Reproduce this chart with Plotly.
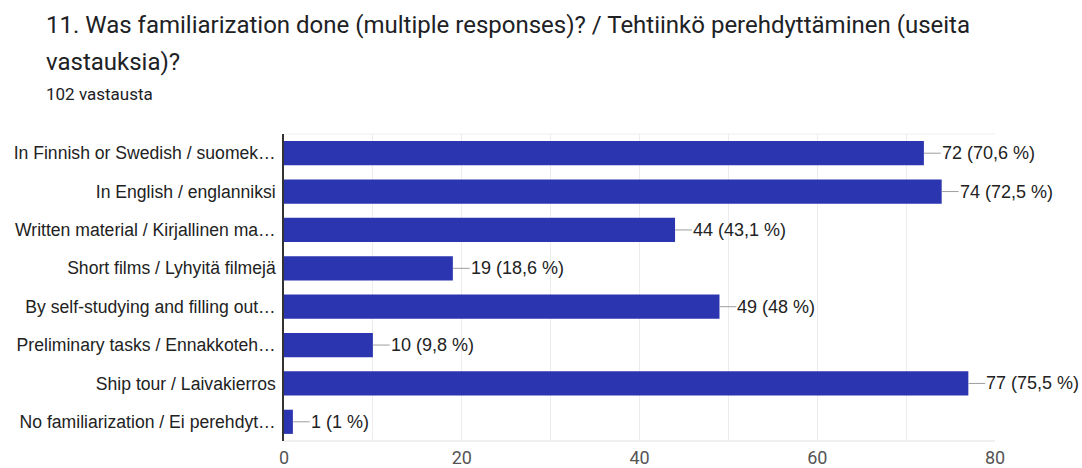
import plotly.graph_objects as go

categories = [
    "In Finnish or Swedish / suomek…",
    "In English / englanniksi",
    "Written material / Kirjallinen ma…",
    "Short films / Lyhyitä filmejä",
    "By self-studying and filling out…",
    "Preliminary tasks / Ennakkoteh…",
    "Ship tour / Laivakierros",
    "No familiarization / Ei perehdyt…",
]
counts = [72, 74, 44, 19, 49, 10, 77, 1]
percents = ["70,6", "72,5", "43,1", "18,6", "48", "9,8", "75,5", "1"]
x_ticks = [0, 20, 40, 60, 80]

title_line1 = "11. Was familiarization done (multiple responses)? / Tehtiinkö perehdyttäminen (useita"
title_line2 = "vastauksia)?"
subtitle = "102 vastausta"

BAR = "#2c35b0"
W, H = 1082, 468
L, R, T, B = 284, 87, 134, 27
PH = H - T - B
PW = W - L - R

fig = go.Figure()
fig.add_trace(go.Bar(
    y=categories, x=counts, orientation="h",
    marker=dict(color=BAR, line=dict(width=0)),
    width=0.63, hoverinfo="skip",
))

# leader lines
lx, ly = [], []
for c, v in zip(categories, counts):
    lx += [v, v + 1.9, None]
    ly += [c, c, None]
fig.add_trace(go.Scatter(x=lx, y=ly, mode="lines",
                         line=dict(color="#9e9e9e", width=1),
                         hoverinfo="skip", cliponaxis=False))

annotations = []
for c, v, p in zip(categories, counts, percents):
    annotations.append(dict(
        x=v, y=c, xref="x", yref="y", text=f"{v} ({p} %)",
        showarrow=False, xanchor="left", xshift=16,
        font=dict(family="Liberation Sans, Arial", size=18, color="#222222"),
    ))

def py(pix):
    return (H - B - pix) / PH

def px(pix):
    return (pix - L) / PW

annotations += [
    dict(x=px(44), y=py(25), xref="paper", yref="paper", text=title_line1,
         showarrow=False, xanchor="left", yanchor="middle",
         font=dict(family="Roboto", size=24, color="#202124")),
    dict(x=px(44), y=py(62), xref="paper", yref="paper", text=title_line2,
         showarrow=False, xanchor="left", yanchor="middle",
         font=dict(family="Roboto", size=24, color="#202124")),
    dict(x=px(44), y=py(94), xref="paper", yref="paper", text=subtitle,
         showarrow=False, xanchor="left", yanchor="middle",
         font=dict(family="Roboto", size=17, color="#202124")),
]

fig.update_layout(
    width=W, height=H,
    margin=dict(l=L, r=R, t=T, b=B, pad=0, autoexpand=False),
    paper_bgcolor="white", plot_bgcolor="white",
    showlegend=False,
    annotations=annotations,
    xaxis=dict(
        range=[0, 80], tickvals=x_ticks, ticks="", showline=False,
        showgrid=True, gridcolor="#ececec", gridwidth=1,
        minor=dict(dtick=10, showgrid=True, gridcolor="#ececec", gridwidth=1),
        zeroline=False, automargin=False, ticklabelstandoff=4,
        tickfont=dict(family="Roboto", size=18, color="#555555"),
        fixedrange=True,
    ),
    yaxis=dict(
        categoryorder="array", categoryarray=categories[::-1],
        autorange=False, range=[-0.5, len(categories) - 0.5],
        showgrid=False, zeroline=False, showline=True,
        linecolor="#333333", linewidth=1.5, mirror=False,
        ticks="", ticklabelstandoff=3, automargin=False,
        tickfont=dict(family="Liberation Sans, Arial", size=17.6, color="#222222"),
        fixedrange=True,
    ),
)
fig.add_shape(type="line", xref="paper", yref="paper", x0=0, x1=1, y0=0, y1=0,
              line=dict(color="#e0e0e0", width=1), layer="below")
fig.add_shape(type="line", xref="paper", yref="paper", x0=0, x1=1, y0=1, y1=1,
              line=dict(color="#f0f0f0", width=1), layer="below")

fig.write_html("out.html")
